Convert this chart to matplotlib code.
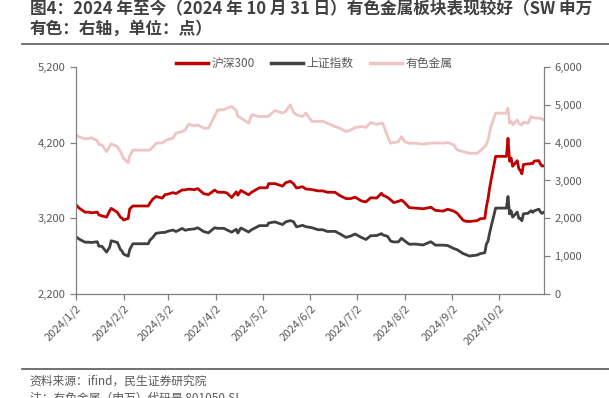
import matplotlib
matplotlib.use("Agg")
import matplotlib.pyplot as plt
from matplotlib.ticker import FuncFormatter, FixedLocator
from matplotlib.lines import Line2D
import pandas as pd

plt.rcParams['font.family'] = ['Noto Sans CJK SC', 'DejaVu Sans']

# holiday dates carry the last close (flat segments in the reference)
dates = ["2024-01-02","2024-01-04","2024-01-08","2024-01-11","2024-01-12","2024-01-16","2024-01-17",
         "2024-01-19","2024-01-22","2024-01-24","2024-01-25","2024-01-29","2024-01-31","2024-02-01",
         "2024-02-02","2024-02-05","2024-02-06","2024-02-08","2024-02-18","2024-02-19","2024-02-21","2024-02-23",
         "2024-02-27","2024-02-29","2024-03-01","2024-03-05","2024-03-07","2024-03-11","2024-03-13",
         "2024-03-15","2024-03-19","2024-03-21","2024-03-25","2024-03-28","2024-04-01","2024-04-03",
         "2024-04-07","2024-04-09","2024-04-12","2024-04-15","2024-04-16","2024-04-18","2024-04-23","2024-04-25",
         "2024-04-30","2024-05-05","2024-05-06","2024-05-10","2024-05-15","2024-05-17","2024-05-20","2024-05-22",
         "2024-05-24","2024-05-28","2024-05-30","2024-06-03","2024-06-07","2024-06-10","2024-06-13","2024-06-18",
         "2024-06-21","2024-06-25","2024-06-28","2024-07-01","2024-07-05","2024-07-08","2024-07-11",
         "2024-07-15","2024-07-18","2024-07-19","2024-07-22","2024-07-24","2024-07-26","2024-07-29",
         "2024-07-31","2024-08-02","2024-08-05","2024-08-09","2024-08-14","2024-08-19","2024-08-22",
         "2024-08-27","2024-08-30","2024-09-03","2024-09-05","2024-09-09","2024-09-11","2024-09-13",
         "2024-09-18","2024-09-20","2024-09-23","2024-09-24","2024-09-25","2024-09-26","2024-09-27",
         "2024-09-30","2024-10-07","2024-10-08","2024-10-09","2024-10-10","2024-10-11","2024-10-14","2024-10-15",
         "2024-10-16","2024-10-17","2024-10-18","2024-10-21","2024-10-22","2024-10-23","2024-10-24",
         "2024-10-25","2024-10-28","2024-10-29","2024-10-30","2024-10-31"]

hs300 = [3386,3340,3283,3282,3273,3283,3247,3233,3218,3300,3333,3280,3215,3204,
         3179,3200,3325,3364,3364,3401,3455,3489,3468,3516,3516,3540,3528,3575,3577,
         3586,3579,3593,3525,3514,3574,3545,3545,3535,3475,3551,3506,3569,3511,3546,
         3604,3604,3659,3659,3626,3671,3690,3659,3601,3618,3588,3580,3563,3563,3545,3545,
         3502,3462,3461,3480,3431,3418,3472,3469,3531,3506,3478,3444,3409,3425,
         3442,3410,3343,3336,3327,3347,3306,3297,3321,3295,3270,3175,3161,3159,
         3171,3196,3201,3353,3451,3589,3703,4018,4018,4256,3955,3997,3887,3961,3856,
         3831,3788,3910,3920,3918,3928,3922,3956,3962,3916,3891,3892]

sse = [2962,2930,2887,2886,2882,2893,2834,2832,2756,2820,2906,2883,2789,2770,
       2730,2702,2789,2866,2866,2911,2951,3004,3015,3015,3027,3047,3027,3068,3043,
       3054,3062,3077,3026,3010,3077,3069,3069,3048,3019,3057,3007,3074,3021,3052,
       3105,3105,3140,3154,3119,3154,3171,3158,3089,3109,3091,3078,3051,3051,3028,3030,
       2998,2950,2967,2994,2950,2922,2971,2975,2999,2982,2964,2901,2890,2891,
       2939,2905,2860,2862,2850,2893,2848,2848,2842,2802,2788,2736,2721,2704,
       2717,2736,2748,2863,2896,3000,3087,3336,3336,3489,3259,3301,3217,3284,3201,
       3202,3169,3261,3268,3286,3302,3280,3300,3322,3286,3266,3279]

nonferrous = [4210,4150,4100,4110,4130,4050,3950,3938,3761,3900,3965,3893,3760,3674,
              3580,3470,3650,3800,3800,3806,3880,3983,3990,4040,4070,4120,4247,4290,4330,
              4485,4440,4467,4379,4379,4700,4863,4863,4908,4950,4850,4686,4650,4511,4731,
              4686,4686,4700,4845,4780,4818,4995,4800,4731,4690,4780,4554,4560,4560,4511,4422,
              4380,4290,4330,4396,4422,4400,4528,4480,4511,4500,4158,3983,4000,4026,
              4158,4026,3983,3983,3960,3983,3990,3983,3999,3938,3806,3761,3740,3718,
              3718,3780,3893,3956,4050,4247,4422,4776,4776,4908,4511,4560,4467,4599,4500,
              4480,4467,4540,4511,4600,4686,4660,4650,4643,4643,4620,4599]

series_names = ["沪深300", "上证指数", "有色金属"]
left_ticks = [2200, 3200, 4200, 5200]
right_ticks = [0, 1000, 2000, 3000, 4000, 5000, 6000]
x_tick_labels = ["2024/1/2","2024/2/2","2024/3/2","2024/4/2","2024/5/2","2024/6/2",
                 "2024/7/2","2024/8/2","2024/9/2","2024/10/2"]

title_text = "图4：2024 年至今（2024 年 10 月 31 日）有色金属板块表现较好（SW 申万\n有色：右轴，单位：点）"
source_text = "资料来源：ifind，民生证券研究院"
note_text = "注：有色金属（申万）代码是 801050.SI"

x = pd.to_datetime(dates)
tick_dates = pd.to_datetime([s.replace("/", "-") for s in x_tick_labels])

RED = "#C00000"
DARK = "#404040"
PINK = "#EEC4C4"
GRAY_TXT = "#595959"
AX_COL = "#808080"

fig = plt.figure(figsize=(6.09, 3.98), dpi=100)
ax = fig.add_axes([0.1243, 0.2606, 0.8933 - 0.1243, 0.8324 - 0.2606])
ax2 = ax.twinx()

ax2.plot(x, nonferrous, color=PINK, lw=2.0, solid_joinstyle='round')
ax.plot(x, sse, color=DARK, lw=2.0, solid_joinstyle='round')
ax.plot(x, hs300, color=RED, lw=2.0, solid_joinstyle='round')
ax.set_zorder(ax2.get_zorder() + 1)
ax.patch.set_visible(False)

ax.set_ylim(2200, 5200)
ax2.set_ylim(0, 6000)
ax.set_xlim(pd.Timestamp("2024-01-02"), pd.Timestamp("2024-10-31 08:00"))

ax.yaxis.set_major_locator(FixedLocator(left_ticks))
ax2.yaxis.set_major_locator(FixedLocator(right_ticks))
fmt = FuncFormatter(lambda v, p: f"{int(v):,}")
ax.yaxis.set_major_formatter(fmt)
ax2.yaxis.set_major_formatter(fmt)

ax.set_xticks(tick_dates)
ax.set_xticklabels(x_tick_labels, rotation=45, ha='right', rotation_mode='anchor')

for a in (ax, ax2):
    for s in a.spines.values():
        s.set_color(AX_COL)
        s.set_linewidth(0.9)
    a.spines['top'].set_visible(False)
    a.tick_params(colors=AX_COL, labelcolor=GRAY_TXT, labelsize=8, length=4, width=0.9)
ax.spines['right'].set_visible(False)
ax2.spines['left'].set_visible(False)
ax2.spines['bottom'].set_visible(False)
ax.tick_params(axis='x', pad=2)

handles = [Line2D([], [], color=RED, lw=2.5),
           Line2D([], [], color=DARK, lw=2.5),
           Line2D([], [], color=PINK, lw=2.5)]
leg = fig.legend(handles, series_names, loc='center', bbox_to_anchor=(0.516, 0.84),
                 ncol=3, frameon=False, fontsize=8.5, handlelength=2.7, handletextpad=0.3,
                 columnspacing=1.4)
for t in leg.get_texts():
    t.set_color(GRAY_TXT)

fig.text(0.049, 0.998, title_text, fontsize=12, fontweight='bold', color="#404040",
         va='top', ha='left', linespacing=1.05)
fig.add_artist(Line2D([0.036, 1.0], [0.889, 0.889], color="#595959", lw=1.2))
fig.add_artist(Line2D([0.036, 1.0], [0.072, 0.072], color="#595959", lw=1.2))
fig.text(0.049, 0.043, source_text, fontsize=8.5, color=GRAY_TXT, va='center', ha='left')
fig.text(0.049, 0.0, note_text, fontsize=8.5, color=GRAY_TXT, va='center', ha='left')

fig.savefig("out.png", dpi=100)
